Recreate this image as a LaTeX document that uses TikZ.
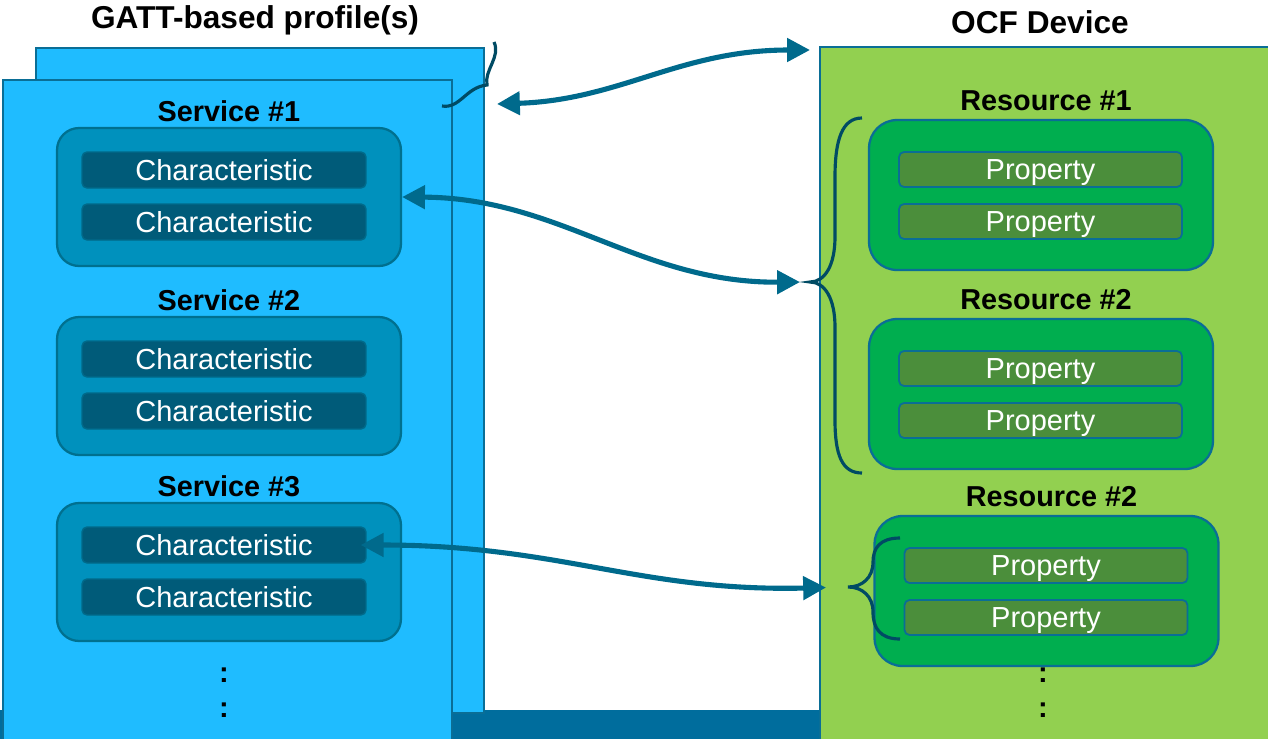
\documentclass[tikz,border=0pt]{standalone}
\usepackage{fontspec}
\setmainfont{Liberation Sans}
\usetikzlibrary{arrows.meta}

\definecolor{skyfill}{HTML}{1FBCFF}
\definecolor{edgeblue}{HTML}{0A6E96}
\definecolor{svcfill}{HTML}{0091BD}
\definecolor{svcedge}{HTML}{00708F}
\definecolor{chrfill}{HTML}{005B79}
\definecolor{chredge}{HTML}{006A8A}
\definecolor{ocfgreen}{HTML}{92D050}
\definecolor{resfill}{HTML}{00AE4F}
\definecolor{propfill}{HTML}{4B8E3B}
\definecolor{linkblue}{HTML}{006A8C}
\definecolor{bracecol}{HTML}{004B64}
\definecolor{stripblue}{HTML}{006D9D}

\tikzset{
  panel/.style={draw=edgeblue, line width=1.2pt, inner sep=0pt},
  heading/.style={font=\fontsize{18}{21}\selectfont\bfseries},
  subhead/.style={font=\fontsize{16.4}{19}\selectfont\bfseries},
  svcbox/.style={draw=svcedge, fill=svcfill, line width=1.3pt, rounded corners=0.44cm,
    minimum width=6.88cm, minimum height=2.76cm, inner sep=0pt},
  chrbox/.style={draw=chredge, fill=chrfill, line width=0.8pt, rounded corners=0.1cm,
    minimum width=5.68cm, minimum height=0.72cm, inner sep=0pt, text=white,
    text height=11.8pt, text depth=0pt, font=\fontsize{16.5}{19}\selectfont},
  resbox/.style={draw=edgeblue, fill=resfill, line width=1.3pt, rounded corners=0.56cm,
    minimum width=6.88cm, minimum height=3cm, inner sep=0pt},
  propbox/.style={draw=edgeblue, fill=propfill, line width=1pt, rounded corners=0.1cm,
    minimum width=5.66cm, minimum height=0.7cm, inner sep=0pt, text=white,
    text height=11.8pt, text depth=0pt, font=\fontsize{16.5}{19}\selectfont},
  dots/.style={font=\fontsize{16.5}{19}\selectfont\bfseries, inner sep=0pt},
  link/.style={draw=linkblue, line width=2.9pt,
    {Triangle[length=13pt,width=13pt]}-{Triangle[length=13pt,width=13pt]}},
  bracecurl/.style={draw=bracecol, line width=1.8pt},
}

\begin{document}
\begin{tikzpicture}[x=0.02cm,y=-0.02cm]
  \useasboundingbox (0,0) rectangle (1268,738);
  \clip (0,0) rectangle (1268,738);
  \fill[stripblue] (0,710) rectangle (830,745);

  % GATT side
  \node[panel, fill=skyfill, minimum width=8.96cm, minimum height=13.3cm] (back) at (260,380.5) {};
  \node[panel, fill=skyfill, minimum width=8.98cm, minimum height=13.6cm] (front) at (227.5,420) {};
  \node[heading] (gatt) at (255,20) {GATT-based profile(s)};
  \foreach \i/\y in {1/111,2/300,3/486} {
    \node[subhead] (svct\i) at (229,\y) {Service \#\i};
    \node[svcbox] (svc\i) at (229,\y+86) {};
    \node[chrbox] (chra\i) at (224,\y+59) {Characteristic};
    \node[chrbox] (chrb\i) at (224,\y+111) {Characteristic};
  }
  \node[dots] (gdotsa) at (224,675) {:};
  \node[dots] (gdotsb) at (224,710) {:};

  % OCF side
  \node[panel, fill=ocfgreen, minimum width=9.2cm, minimum height=14.26cm] (ocf) at (1050,403.5) {};
  \node[heading] (ocft) at (1040,22) {OCF Device};
  \node[dots] (odotsa) at (1043,675) {:};
  \node[dots] (odotsb) at (1043,710) {:};
  \foreach \i/\x/\y/\n in {1/1041/101/1, 2/1041/300/2, 3/1046.5/497/2} {
    \node[subhead] (rest\i) at (\x+5,\y) {Resource \#\n};
    \node[resbox] (res\i) at (\x,\y+94) {};
    \node[propbox] (propa\i) at (\x-0.5,\y+68.5) {Property};
    \node[propbox] (propb\i) at (\x-0.5,\y+120.5) {Property};
  }

  % braces
  \coordinate (bracetipa) at (810,282);
  \coordinate (bracetipb) at (848,587);
  \draw[bracecurl] (862,118) .. controls (842,118) and (835,140) .. (835,177) -- (835,237)
    .. controls (835,265) and (825,282) .. (bracetipa)
    .. controls (825,282) and (835,299) .. (835,327) -- (835,420)
    .. controls (835,455) and (842,473) .. (862,473);
  \draw[bracecurl] (900,538) .. controls (880,538) and (873,548) .. (873,562)
    .. controls (873,578) and (862,587) .. (bracetipb)
    .. controls (862,587) and (873,596) .. (873,612)
    .. controls (873,628) and (880,639) .. (900,639);
  \draw[bracecurl] (442,106) .. controls (460,109) and (466,87) .. (487,85)
    .. controls (484,70) and (501,57) .. (494,42);

  % links
  \coordinate (gattin) at (497,104);
  \coordinate (ocfin) at (810,50);
  \draw[link] (gattin) .. controls (620,100) and (680,50) .. (ocfin);
  \draw[link, shorten >=0.2cm] (svc1.east) .. controls (560,198) and (640,283) .. (bracetipa);
  \draw[link, shorten <=-0.12cm, shorten >=0.44cm] (chra3.east) .. controls (560,545) and (640,592) .. (bracetipb);
\end{tikzpicture}
\end{document}
